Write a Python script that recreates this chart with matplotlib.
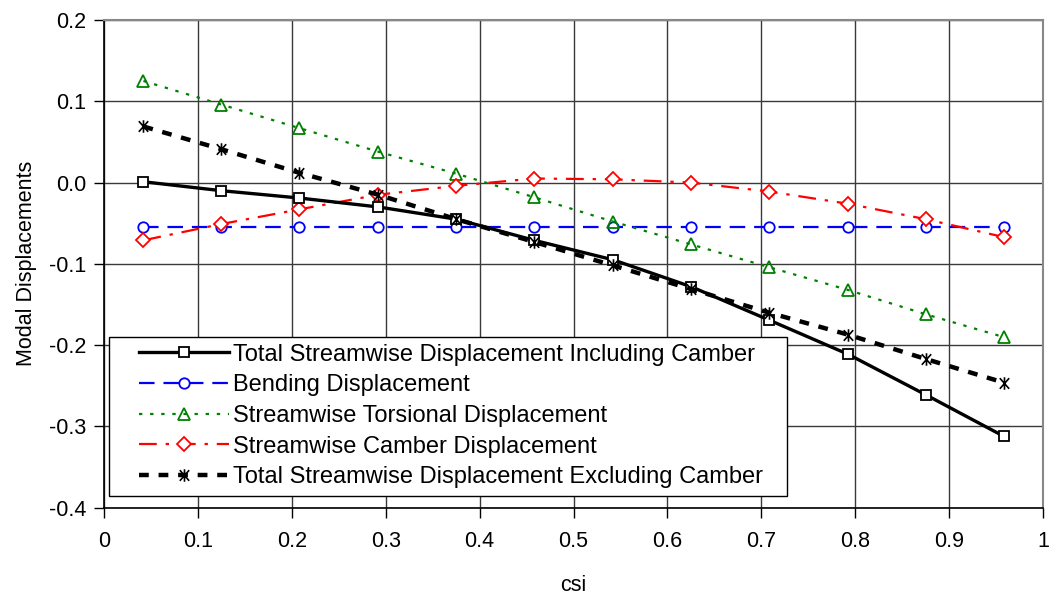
import matplotlib
matplotlib.use("Agg")
import matplotlib.pyplot as plt
from matplotlib.path import Path
from matplotlib.patches import Rectangle
from matplotlib.ticker import FixedLocator, FuncFormatter

plt.rcParams['font.family'] = ['Liberation Sans', 'DejaVu Sans']

# Spanwise stations
csi = [0.042, 0.125, 0.208, 0.292, 0.375, 0.458, 0.542, 0.625, 0.708, 0.792, 0.875, 0.958]

total_incl_camber = [0.001, -0.010, -0.019, -0.030, -0.045, -0.071, -0.095, -0.128, -0.169, -0.211, -0.261, -0.312]
bending = [-0.055, -0.055, -0.055, -0.055, -0.055, -0.055, -0.055, -0.055, -0.055, -0.055, -0.055, -0.055]
torsional = [0.125, 0.096, 0.067, 0.038, 0.011, -0.018, -0.048, -0.076, -0.104, -0.132, -0.162, -0.190]
camber = [-0.071, -0.051, -0.033, -0.015, -0.004, 0.005, 0.004, 0.000, -0.011, -0.026, -0.045, -0.067]
total_excl_camber = [0.069, 0.041, 0.012, -0.015, -0.045, -0.073, -0.102, -0.131, -0.160, -0.187, -0.217, -0.246]

labels = [
    "Total Streamwise Displacement Including Camber",
    "Bending Displacement",
    "Streamwise Torsional Displacement",
    "Streamwise Camber Displacement",
    "Total Streamwise Displacement Excluding Camber",
]

x_ticks = [0, 0.1, 0.2, 0.3, 0.4, 0.5, 0.6, 0.7, 0.8, 0.9, 1.0]
y_ticks = [-0.4, -0.3, -0.2, -0.1, 0.0, 0.1, 0.2]

# Star marker: an X crossed by a vertical stroke
star = Path(
    [(-0.75, -0.85), (0.75, 0.85), (-0.75, 0.85), (0.75, -0.85), (0, -1), (0, 1)],
    [Path.MOVETO, Path.LINETO, Path.MOVETO, Path.LINETO, Path.MOVETO, Path.LINETO],
)

W, H = 1054, 596
fig = plt.figure(figsize=(W / 100, H / 100), dpi=100)
ax = fig.add_axes([104 / W, 1 - 507.7 / H, 939 / W, 487.7 / H])

ax.plot(csi, total_incl_camber, color='black', lw=2.4, ls='-',
        marker='s', ms=7, mfc='white', mec='black', mew=1.3, label=labels[0], zorder=5)
ax.plot(csi, bending, color='#0000FF', lw=1.6, ls=(0, (7, 4)),
        marker='o', ms=7.5, mfc='white', mec='#0000FF', mew=1.3, label=labels[1], zorder=3)
ax.plot(csi, torsional, color='#008000', lw=1.6, ls=(0, (1.5, 3.5)),
        marker='^', ms=9, mfc='none', mec='#008000', mew=1.3, label=labels[2], zorder=3)
ax.plot(csi, camber, color='#FF0000', lw=1.6, ls=(0, (8, 4, 1.5, 4)),
        marker='D', ms=7.5, mfc='white', mec='#FF0000', mew=1.3, label=labels[3], zorder=4)
ax.plot(csi, total_excl_camber, color='black', lw=3.2, ls=(0, (2.2, 2.2)),
        marker=star, ms=9, mec='black', mew=1.2, label=labels[4], zorder=6)

ax.set_xlim(0, 1)
ax.set_ylim(-0.4, 0.2)
ax.xaxis.set_major_locator(FixedLocator(x_ticks))
ax.yaxis.set_major_locator(FixedLocator(y_ticks))
ax.xaxis.set_major_formatter(FuncFormatter(lambda v, p: "0" if abs(v) < 1e-9 else ("1" if abs(v - 1) < 1e-9 else f"{v:.1f}")))
ax.yaxis.set_major_formatter(FuncFormatter(lambda v, p: f"{v:.1f}"))

ax.grid(True, color='#3a3a3a', lw=1.0)
ax.set_axisbelow(True)
ax.tick_params(axis='both', direction='out', length=7, width=1, labelsize=15.5, colors='black')
ax.tick_params(axis='x', pad=10)
ax.tick_params(axis='y', pad=6)

for side in ('left', 'bottom'):
    ax.spines[side].set_color('black')
    ax.spines[side].set_linewidth(1.2)
for side in ('top', 'right'):
    ax.spines[side].set_color('#888888')
    ax.spines[side].set_linewidth(1.5)

ax.set_xlabel("csi", fontsize=15.5, labelpad=16)
ax.set_ylabel("Modal Displacements", fontsize=15.5, labelpad=8)

# Legend box: white panel with a thin black border, entries inset from its edges
box = Rectangle((109.3 / W, 1 - 496 / H), (786.7 - 109.3) / W, (496 - 336.7) / H,
                transform=fig.transFigure, facecolor='white', edgecolor='black',
                lw=1.0, zorder=9, clip_on=False)
ax.add_patch(box)

leg = ax.legend(loc='upper left', bbox_to_anchor=(139 / W, 1 - 343.5 / H),
                bbox_transform=fig.transFigure, borderaxespad=0, borderpad=0,
                fontsize=17, handlelength=3.8, handletextpad=0.18, labelspacing=0.37,
                frameon=False)
leg.set_zorder(10)

fig.savefig("out.png", dpi=100)
